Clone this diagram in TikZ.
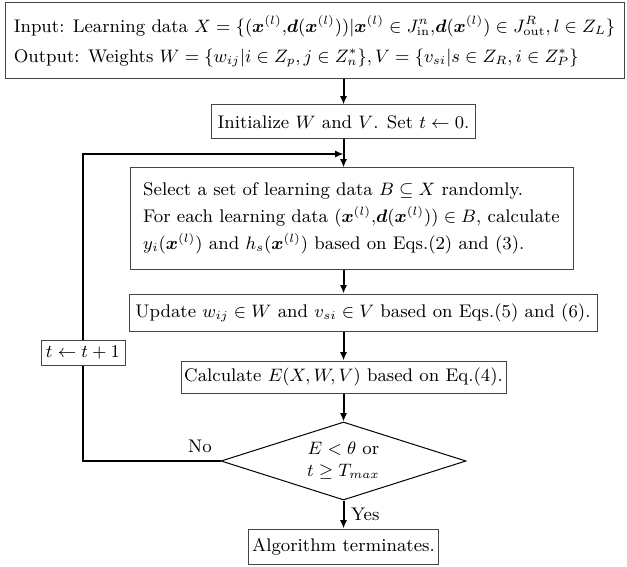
\documentclass[tikz,border=0pt]{standalone}
\usepackage{amsmath,amssymb}
\usepackage{tikz}
\usetikzlibrary{arrows.meta,positioning,calc,shapes.geometric}
\definecolor{ink}{RGB}{70,70,70}

\begin{document}
\begin{tikzpicture}[x=0.5pt,y=-0.5pt,font=\fontsize{9.15pt}{11pt}\selectfont,
  block/.style={rectangle,draw=ink,line width=0.5pt,inner sep=0pt,align=center},
  decision/.style={diamond,draw=black,line width=0.5pt,inner sep=0pt,aspect=3.14,align=center,minimum width=122.5pt,minimum height=39pt},
  arrow/.style={-{Latex[length=4.2pt,width=3.6pt]},line width=1pt}
]
\useasboundingbox (0,0) rectangle (627,567);
\node[block,align=left,inner xsep=3pt,minimum width=309.5pt,minimum height=38pt] (io) at (314.5,41)
  {Input: Learning data $X=\{(\boldsymbol{x}^{(l)}{,}\boldsymbol{d}(\boldsymbol{x}^{(l)}))|\boldsymbol{x}^{(l)}\in J^n_{\mathrm{in}}{,}\boldsymbol{d}(\boldsymbol{x}^{(l)})\in J^R_{\mathrm{out}},l\in Z_L\}$\\[4pt]
   Output: Weights $W=\{w_{ij}|i\in Z_p,j\in Z_n^*\},V=\{v_{si}|s\in Z_R,i\in Z_P^*\}$};
\node[block,minimum width=132pt,minimum height=17pt] (init) at (343.5,122) {Initialize $W$ and $V$. Set $t\leftarrow 0$.};
\node[block,align=left,minimum width=221.5pt,minimum height=50.5pt] (select) at (351.5,218.5)
  {Select a set of learning data $B\subseteq X$ randomly.\\[2.5pt]
   For each learning data $(\boldsymbol{x}^{(l)}{,}\boldsymbol{d}(\boldsymbol{x}^{(l)}))\in B$, calculate\\[2.5pt]
   $y_i(\boldsymbol{x}^{(l)})$ and $h_s(\boldsymbol{x}^{(l)})$ based on Eqs.(2) and (3).};
\node[block,minimum width=234pt,minimum height=18.5pt] (update) at (363,312.5) {Update $w_{ij}\in W$ and $v_{si}\in V$ based on Eqs.(5) and (6).};
\node[block,minimum width=162.5pt,minimum height=16pt] (calc) at (343.5,377) {Calculate $E(X,W,V)$ based on Eq.(4).};
\node[block,minimum width=42pt,minimum height=12.5pt] (incr) at (83,352.5) {$t\leftarrow t+1$};
\node[decision] (test) at (343.5,461) {$E<\theta$ or\\$t\geq T_{max}$};
\node[block,minimum width=95pt,minimum height=17.5pt] (done) at (343.5,546.5) {Algorithm terminates.};
\node (no) at (200,446) {No};
\coordinate (back) at (343.5,154);

\draw[arrow] (io.south -| init) -- (init);
\draw[arrow] (init) -- (init |- select.north);
\draw[arrow] (init |- select.south) -- (init |- update.north);
\draw[arrow] (init |- update.south) -- (calc);
\draw[arrow] (calc) -- (test);
\draw[arrow] (test) -- node[right]{Yes} (done);
\draw[line width=1pt] (test.west) -| (incr.south);
\draw[arrow] (incr.north) |- (back);
\end{tikzpicture}
\end{document}
